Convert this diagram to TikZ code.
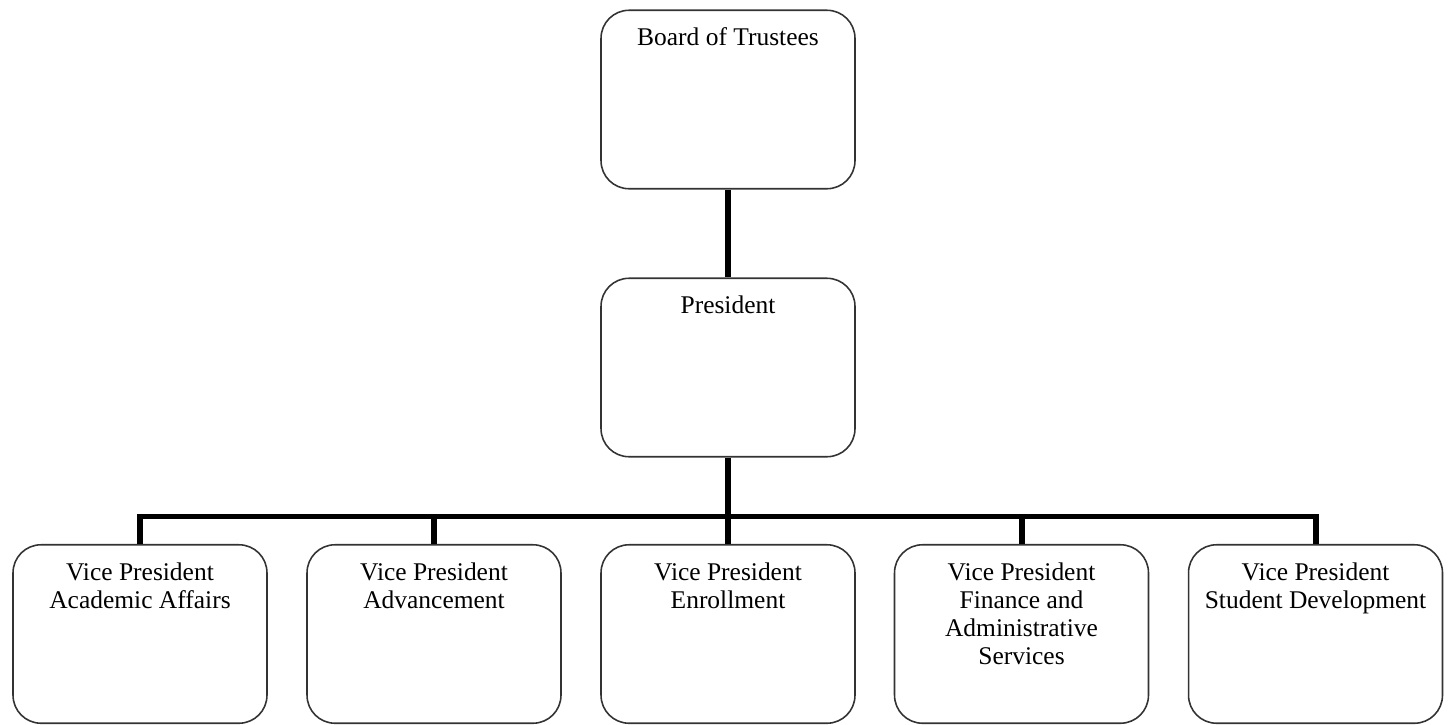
\documentclass[tikz,border=0pt]{standalone}
\usepackage{fontspec}
\setmainfont{Liberation Serif}
\usetikzlibrary{calc,%
		positioning}

\tikzset{box/.style={draw=black!80,line width=0.9pt,rounded corners=0.56cm,
		minimum width=5.08cm,minimum height=3.57cm,inner sep=0pt},
	boxtext/.style={anchor=north,align=center,inner sep=0pt,yshift=-0.36cm},
	link/.style={line width=3.4pt}}

\begin{document}
\begin{tikzpicture}[x=0.02cm,y=-0.02cm,font=\fontsize{14.5}{16}\selectfont]
\useasboundingbox (0,0) rectangle (1449,724);

\begin{scope}
\node[box] (b) at (728,99.5) {};
\node[boxtext] (bt) at (b.north) {Board of Trustees};

\node[box] (p) at (728,367.5) {};
\node[boxtext] (pt) at (p.north) {President};

\node[box] (vp1) at (140,634) {};
\node[box] (vp2) at (434,634) {};
\node[box] (vp3) at (728,634) {};
\node[box] (vp4) at (1021.5,634) {};
\node[box] (vp5) at (1315.5,634) {};

\node[boxtext] (vp1t) at (vp1.north) {Vice President\\Academic Affairs};
\node[boxtext] (vp2t) at (vp2.north) {Vice President\\Advancement};
\node[boxtext] (vp3t) at (vp3.north) {Vice President\\Enrollment};
\node[boxtext] (vp4t) at (vp4.north) {Vice President\\Finance and\\Administrative\\Services};
\node[boxtext] (vp5t) at (vp5.north) {Vice President\\Student Development};
\end{scope}

\coordinate (bus) at (728,516.5);

\draw[link] (b.south) -- (p.north);
\draw[link] (p.south) -- (bus);
\draw[link] (vp1.north) -- (vp1.north |- bus) -- (vp5.north |- bus) -- (vp5.north);
\foreach \i in {2,3,4}
	\draw[link] (vp\i.north) -- (vp\i.north |- bus);

\end{tikzpicture}
\end{document}
